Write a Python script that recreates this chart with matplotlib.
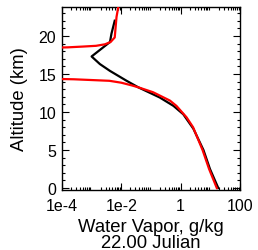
import numpy as np
import matplotlib
matplotlib.use("Agg")
import matplotlib.pyplot as plt
from matplotlib.ticker import LogLocator, MultipleLocator, FixedLocator

plt.rcParams["font.family"] = ["Liberation Sans", "DejaVu Sans"]

# Black profile: altitude (km) and log10 of water vapor (g/kg)
black_alt = [0, 2.5, 5, 7.8, 9.7, 10.8, 11.9, 13.25, 14.1, 15.4, 16.3, 17.3, 19.2, 20.3, 22.0]
black_log = [1.27, 0.99, 0.77, 0.43, 0.09, -0.24, -0.70, -1.43, -1.82, -2.38, -2.72, -3.0,
             -2.38, -2.33, -2.22]

# Red profile (drops below the axis range between ~14.4 and ~18.4 km)
red_alt = [0, 2.5, 5, 8.0, 9.3, 10.8, 11.5, 12.6, 13.25, 13.5, 13.85, 14.1, 14.3, 14.38, 14.5,
           16.0, 18.3, 18.42, 18.5, 18.6, 18.7, 18.9, 19.2, 19.8, 22.5, 23.8]
red_log = [1.22, 0.96, 0.74, 0.42, 0.20, -0.14, -0.36, -0.93, -1.43, -1.65, -2.0, -2.4, -3.6,
           -4.6, -7, -8, -7, -4.6, -3.8, -3.3, -2.85, -2.55, -2.36, -2.22, -2.16, -2.10]

fig = plt.figure(figsize=(2.58, 2.51), dpi=100)
ax = fig.add_axes([0.240, 0.239, 0.690, 0.729])

ax.plot(10.0 ** np.array(black_log), black_alt, color="black", lw=1.6, zorder=2)
ax.plot(10.0 ** np.array(red_log), red_alt, color="#ff0000", lw=1.6, zorder=3)

ax.set_xscale("log")
ax.set_xlim(1e-4, 100)
ax.set_ylim(-0.26, 23.8)

ax.xaxis.set_major_locator(FixedLocator([1e-4, 1e-2, 1, 100]))
ax.set_xticklabels(["1e-4", "1e-2", "1", "100"])
ax.xaxis.set_minor_locator(LogLocator(base=10, subs=np.arange(2, 10), numticks=20))
ax.yaxis.set_major_locator(MultipleLocator(5))
ax.yaxis.set_minor_locator(MultipleLocator(1))

ax.tick_params(which="both", direction="in", top=True, right=True, labelsize=11.5, width=0.8)
ax.tick_params(which="major", length=5)
ax.tick_params(axis="x", which="major", pad=6)
ax.tick_params(axis="y", which="major", pad=4)
ax.tick_params(which="minor", length=2.5)
for s in ax.spines.values():
    s.set_linewidth(1.0)

ax.set_ylabel("Altitude (km)", fontsize=13.3, labelpad=8)
ax.set_xlabel("Water Vapor, g/kg\n22.00 Julian", fontsize=13.3, linespacing=0.92, labelpad=3.5)

fig.savefig("out.png", dpi=100)
